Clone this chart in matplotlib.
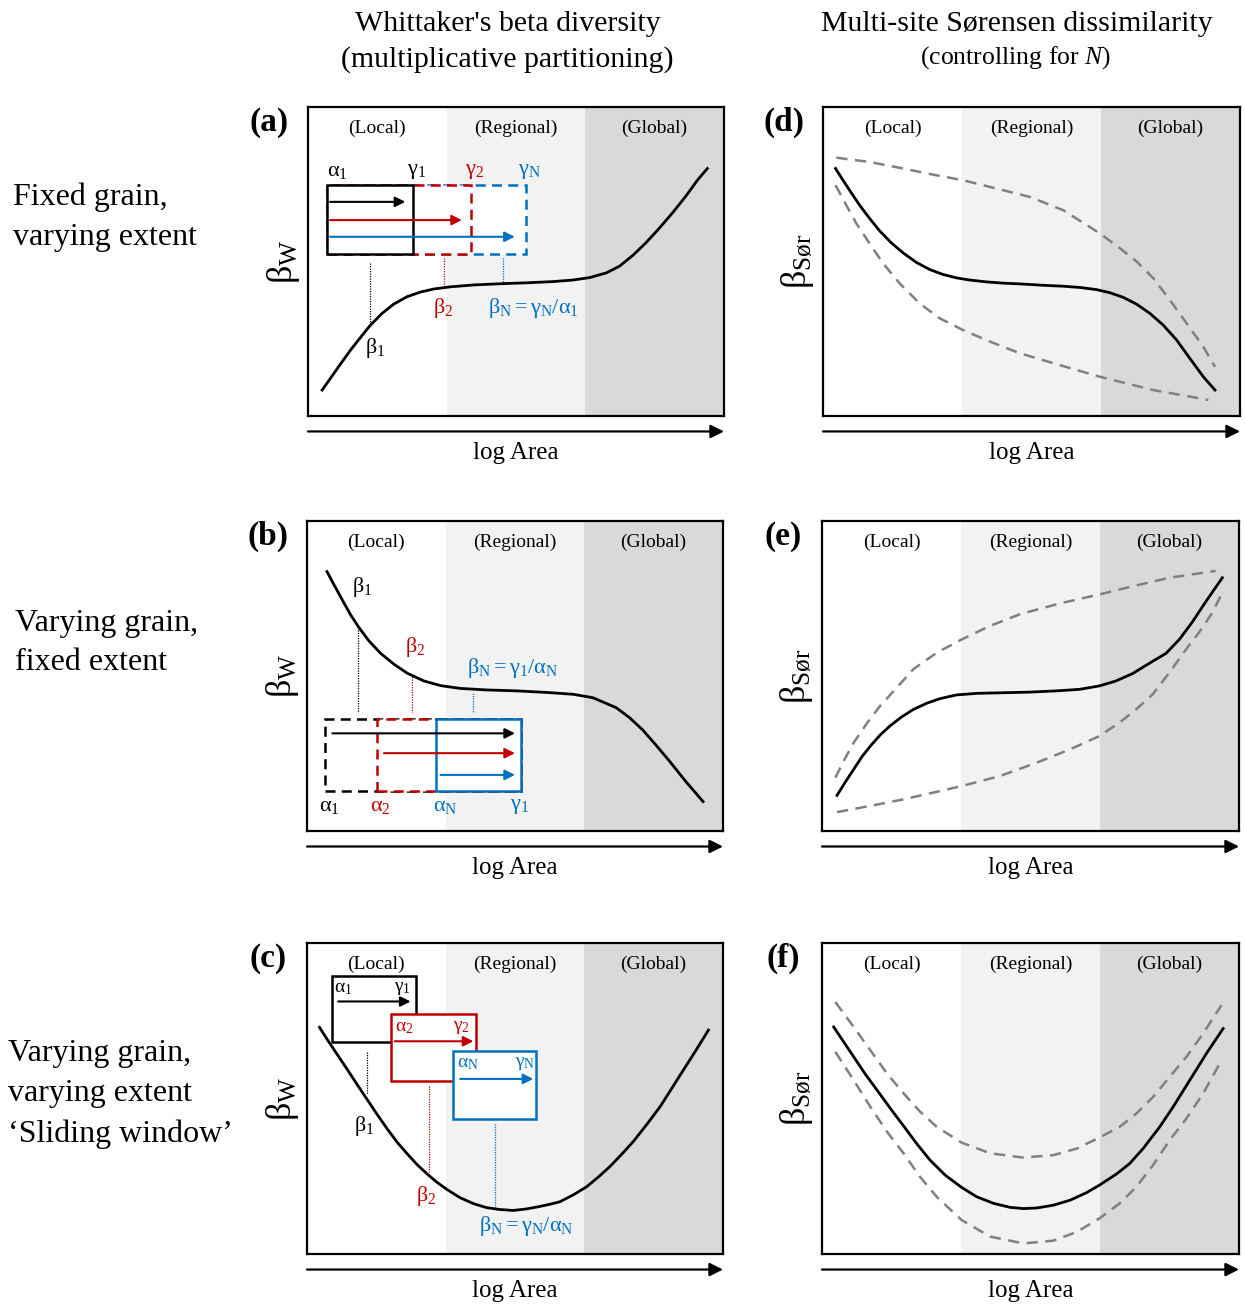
import matplotlib
matplotlib.use('Agg')
import matplotlib.pyplot as plt
from matplotlib.patches import Rectangle

plt.rcParams['font.family'] = ['Liberation Serif', 'DejaVu Serif']
plt.rcParams['mathtext.fontset'] = 'custom'
plt.rcParams['mathtext.rm'] = 'Liberation Serif'
plt.rcParams['mathtext.it'] = 'Liberation Serif:italic'
plt.rcParams['mathtext.bf'] = 'Liberation Serif:bold'

RED = '#c00000'
BLUE = '#0070c0'
GREY = '#808080'
COLS = ['black', RED, BLUE]

band_edges = [0, 1/3, 2/3, 1]
band_names = ['(Local)', '(Regional)', '(Global)']
band_colors = ['white', '#f2f2f2', '#d9d9d9']

# --- curves (x = log Area, y = beta, both 0..1) ---
a_x = [0.034, 0.054, 0.078, 0.102, 0.126, 0.150, 0.178, 0.206, 0.238, 0.270, 0.302,
       0.342, 0.397, 0.461, 0.525, 0.589, 0.637, 0.677, 0.717, 0.749, 0.781, 0.812,
       0.844, 0.876, 0.908, 0.936, 0.960]
a_y = [0.084, 0.122, 0.168, 0.213, 0.254, 0.294, 0.332, 0.362, 0.386, 0.401, 0.411,
       0.418, 0.424, 0.428, 0.431, 0.435, 0.440, 0.448, 0.463, 0.485, 0.520, 0.560,
       0.607, 0.657, 0.711, 0.763, 0.801]

b_x = [0.048, 0.065, 0.085, 0.105, 0.125, 0.149, 0.177, 0.209, 0.241, 0.281, 0.321,
       0.368, 0.432, 0.504, 0.576, 0.640, 0.687, 0.743, 0.775, 0.807, 0.839, 0.871,
       0.911, 0.952]
b_y = [0.837, 0.794, 0.745, 0.697, 0.656, 0.613, 0.573, 0.538, 0.509, 0.484, 0.469,
       0.460, 0.455, 0.452, 0.447, 0.441, 0.430, 0.398, 0.366, 0.326, 0.277, 0.226,
       0.159, 0.095]

c_x = [0.030, 0.049, 0.073, 0.097, 0.121, 0.145, 0.169, 0.193, 0.217, 0.241, 0.265,
       0.289, 0.313, 0.337, 0.368, 0.400, 0.432, 0.464, 0.496, 0.528, 0.560, 0.584,
       0.608, 0.640, 0.672, 0.700, 0.728, 0.756, 0.784, 0.817, 0.849, 0.877, 0.905,
       0.935, 0.965]
c_y = [0.729, 0.689, 0.641, 0.593, 0.544, 0.496, 0.448, 0.402, 0.359, 0.322, 0.287,
       0.257, 0.230, 0.207, 0.181, 0.162, 0.149, 0.143, 0.140, 0.145, 0.153, 0.160,
       0.168, 0.190, 0.216, 0.247, 0.281, 0.320, 0.361, 0.417, 0.474, 0.533, 0.592,
       0.655, 0.720]

d_x = [0.030, 0.048, 0.068, 0.088, 0.112, 0.136, 0.164, 0.192, 0.224, 0.256, 0.288,
       0.320, 0.352, 0.392, 0.432, 0.480, 0.528, 0.576, 0.616, 0.656, 0.688, 0.720,
       0.752, 0.784, 0.816, 0.848, 0.880, 0.912, 0.940]
d_y = [0.801, 0.763, 0.722, 0.682, 0.639, 0.599, 0.560, 0.528, 0.497, 0.474, 0.458,
       0.447, 0.440, 0.434, 0.430, 0.427, 0.423, 0.420, 0.416, 0.409, 0.399, 0.384,
       0.362, 0.332, 0.294, 0.246, 0.186, 0.127, 0.084]
d_up_x = [0.032, 0.112, 0.192, 0.272, 0.336, 0.416, 0.496, 0.576, 0.664, 0.712, 0.752,
          0.792, 0.832, 0.872, 0.912, 0.940]
d_up_y = [0.836, 0.822, 0.801, 0.779, 0.763, 0.736, 0.709, 0.666, 0.591, 0.543, 0.500,
          0.446, 0.375, 0.300, 0.224, 0.159]
d_lo_x = [0.030, 0.056, 0.080, 0.112, 0.144, 0.184, 0.232, 0.280, 0.336, 0.400, 0.472,
          0.552, 0.664, 0.792, 0.924]
d_lo_y = [0.747, 0.682, 0.623, 0.558, 0.494, 0.429, 0.364, 0.316, 0.278, 0.241, 0.203,
          0.171, 0.127, 0.084, 0.052]

e_x = [0.036, 0.056, 0.076, 0.096, 0.116, 0.139, 0.163, 0.191, 0.219, 0.251, 0.283,
       0.323, 0.371, 0.434, 0.498, 0.562, 0.618, 0.665, 0.705, 0.745, 0.785, 0.825,
       0.857, 0.888, 0.920, 0.960]
e_y = [0.115, 0.158, 0.199, 0.240, 0.274, 0.309, 0.339, 0.368, 0.392, 0.412, 0.427,
       0.439, 0.444, 0.446, 0.448, 0.452, 0.457, 0.468, 0.484, 0.508, 0.541, 0.573,
       0.618, 0.674, 0.739, 0.817]
e_up_x = [0.032, 0.052, 0.076, 0.108, 0.139, 0.179, 0.219, 0.275, 0.335, 0.402, 0.474,
          0.570, 0.665, 0.753, 0.833, 0.944]
e_up_y = [0.172, 0.226, 0.285, 0.348, 0.403, 0.462, 0.522, 0.575, 0.618, 0.661, 0.699,
          0.734, 0.763, 0.792, 0.817, 0.839]
e_lo_x = [0.036, 0.116, 0.195, 0.267, 0.335, 0.426, 0.514, 0.594, 0.665, 0.713, 0.753,
          0.793, 0.833, 0.873, 0.904, 0.936, 0.960]
e_lo_y = [0.061, 0.081, 0.102, 0.124, 0.145, 0.177, 0.220, 0.263, 0.306, 0.349, 0.392,
          0.441, 0.511, 0.586, 0.640, 0.704, 0.769]

f_x = [0.028, 0.052, 0.076, 0.104, 0.132, 0.164, 0.196, 0.227, 0.259, 0.295, 0.335,
       0.371, 0.411, 0.451, 0.483, 0.515, 0.555, 0.595, 0.634, 0.666, 0.706, 0.738,
       0.770, 0.810, 0.842, 0.882, 0.922, 0.962]
f_y = [0.730, 0.682, 0.634, 0.578, 0.527, 0.468, 0.411, 0.355, 0.302, 0.254, 0.214,
       0.184, 0.163, 0.150, 0.146, 0.148, 0.157, 0.173, 0.197, 0.222, 0.257, 0.291,
       0.339, 0.409, 0.473, 0.559, 0.645, 0.725]
f_up_x = [0.032, 0.076, 0.116, 0.156, 0.196, 0.235, 0.275, 0.335, 0.403, 0.483, 0.555,
          0.611, 0.666, 0.714, 0.754, 0.794, 0.834, 0.874, 0.914, 0.958]
f_up_y = [0.810, 0.730, 0.655, 0.580, 0.516, 0.458, 0.409, 0.358, 0.324, 0.310, 0.318,
          0.339, 0.375, 0.409, 0.452, 0.505, 0.570, 0.634, 0.709, 0.800]
f_lo_x = [0.032, 0.076, 0.116, 0.156, 0.196, 0.235, 0.275, 0.335, 0.403, 0.483, 0.555,
          0.611, 0.666, 0.714, 0.754, 0.794, 0.834, 0.874, 0.914, 0.958]
f_lo_y = [0.650, 0.559, 0.473, 0.393, 0.323, 0.248, 0.184, 0.109, 0.056, 0.034, 0.043,
          0.071, 0.115, 0.163, 0.216, 0.286, 0.366, 0.436, 0.516, 0.623]

# --- inset schematics (black, red, blue) ---
a_box_x1 = [0.252, 0.392, 0.525]
a_box_x0 = 0.046
a_box_y = (0.524, 0.747)
a_arrow_y = [0.693, 0.634, 0.580]
a_arrow_x1 = [0.234, 0.370, 0.497]
a_drop_x = [0.150, 0.326, 0.469]
a_drop_top = [0.496, 0.510, 0.510]
a_drop_bot = [0.294, 0.413, 0.429]
a_top_labels = [r'$\mathrm{\alpha_1}$', r'$\mathrm{\gamma_1}$', r'$\mathrm{\gamma_2}$', r'$\mathrm{\gamma_N}$']
a_top_label_x = [0.070, 0.262, 0.401, 0.533]
a_beta_labels = [r'$\mathrm{\beta_1}$', r'$\mathrm{\beta_2}$', r'$\mathrm{\beta_N = \gamma_N/\alpha_1}$']
a_beta_xy = [(0.162, 0.219), (0.326, 0.348), (0.543, 0.348)]

b_box_x0 = [0.043, 0.169, 0.309]
b_box_x1 = 0.514
b_box_y = (0.129, 0.361)
b_arrow_y = [0.315, 0.251, 0.181]
b_arrow_x0 = [0.061, 0.185, 0.321]
b_arrow_x1 = 0.500
b_drop_x = [0.123, 0.253, 0.400]
b_drop_top = [0.665, 0.505, 0.444]
b_drop_bot = [0.385, 0.385, 0.380]
b_bot_labels = [r'$\mathrm{\alpha_1}$', r'$\mathrm{\alpha_2}$', r'$\mathrm{\alpha_N}$', r'$\mathrm{\gamma_1}$']
b_bot_label_x = [0.053, 0.177, 0.333, 0.512]
b_beta_labels = [r'$\mathrm{\beta_1}$', r'$\mathrm{\beta_2}$', r'$\mathrm{\beta_N = \gamma_1/\alpha_N}$']
b_beta_xy = [(0.132, 0.788), (0.261, 0.595), (0.494, 0.525)]

c_box_x = [(0.061, 0.261), (0.201, 0.407), (0.352, 0.550)]
c_box_y = [(0.681, 0.893), (0.555, 0.772), (0.434, 0.654)]
c_arrow_y = [0.812, 0.684, 0.563]
c_arrow_x = [(0.075, 0.249), (0.211, 0.400), (0.368, 0.544)]
c_alpha_labels = [r'$\mathrm{\alpha_1}$', r'$\mathrm{\alpha_2}$', r'$\mathrm{\alpha_N}$']
c_gamma_labels = [r'$\mathrm{\gamma_1}$', r'$\mathrm{\gamma_2}$', r'$\mathrm{\gamma_N}$']
c_label_x = [(0.088, 0.229), (0.233, 0.372), (0.388, 0.524)]
c_label_y = [0.854, 0.729, 0.614]
c_drop_x = [0.145, 0.293, 0.452]
c_drop_top = [0.648, 0.541, 0.418]
c_drop_bot = [0.514, 0.263, 0.150]
c_beta_labels = [r'$\mathrm{\beta_1}$', r'$\mathrm{\beta_2}$', r'$\mathrm{\beta_N = \gamma_N/\alpha_N}$']
c_beta_xy = [(0.137, 0.413), (0.287, 0.188), (0.528, 0.089)]

W, H = 1245, 1311
fig = plt.figure(figsize=(W / 100, H / 100), dpi=100)


def make_ax(x0, y0, x1, y1):
    return fig.add_axes([x0 / W, 1 - y1 / H, (x1 - x0) / W, (y1 - y0) / H])


def setup(ax, letter, ylab):
    ax.set_xlim(0, 1)
    ax.set_ylim(0, 1)
    ax.set_xticks([])
    ax.set_yticks([])
    for i in range(3):
        ax.axvspan(band_edges[i], band_edges[i + 1], color=band_colors[i], lw=0, zorder=0)
        ax.text((band_edges[i] + band_edges[i + 1]) / 2, 0.93, band_names[i],
                ha='center', va='center', fontsize=14)
    for s in ax.spines.values():
        s.set_linewidth(1.6)
        s.set_zorder(10)
    ax.annotate('', xy=(1.0, -0.05), xytext=(0.0, -0.05), xycoords='axes fraction',
                arrowprops=dict(arrowstyle='-|>', color='black', lw=1.6,
                                mutation_scale=20, shrinkA=0, shrinkB=0))
    ax.text(0.5, -0.12, 'log Area', transform=ax.transAxes, ha='center', va='center',
            fontsize=18)
    ax.text(-0.06, 0.5, ylab, transform=ax.transAxes, ha='center', va='center',
            rotation=90, fontsize=26)
    ax.text(-0.094, 0.95, letter, transform=ax.transAxes, ha='center', va='center',
            fontsize=24, fontweight='bold')


def arrow(ax, x0, x1, y, c):
    ax.annotate('', xy=(x1, y), xytext=(x0, y),
                arrowprops=dict(arrowstyle='-|>', color=c, lw=1.5,
                                mutation_scale=15, shrinkA=0, shrinkB=0), zorder=6)


def drop(ax, x, y0, y1, c):
    ax.plot([x, x], [y0, y1], color=c, lw=0.9, ls=(0, (1, 1)), zorder=3)


bw = r'β$_\mathrm{W}$'
bs = r'β$_\mathrm{Sør}$'

ax_a = make_ax(308, 107, 724, 416)
ax_d = make_ax(823, 107, 1240, 416)
ax_b = make_ax(307, 521, 723, 831)
ax_e = make_ax(822, 521, 1239, 831)
ax_c = make_ax(307, 943, 723, 1254)
ax_f = make_ax(822, 943, 1239, 1254)

for ax, lt, yl in [(ax_a, '(a)', bw), (ax_b, '(b)', bw), (ax_c, '(c)', bw),
                   (ax_d, '(d)', bs), (ax_e, '(e)', bs), (ax_f, '(f)', bs)]:
    setup(ax, lt, yl)

# panel a
ax_a.plot(a_x, a_y, color='black', lw=2, zorder=4)
for i in [2, 1, 0]:
    ls = '-' if i == 0 else (0, (4, 2.5))
    ax_a.add_patch(Rectangle((a_box_x0, a_box_y[0]), a_box_x1[i] - a_box_x0,
                             a_box_y[1] - a_box_y[0], facecolor='white',
                             edgecolor=COLS[i], lw=1.8, ls=ls, zorder=5))
for i in range(3):
    arrow(ax_a, a_box_x0 + 0.007, a_arrow_x1[i], a_arrow_y[i], COLS[i])
    drop(ax_a, a_drop_x[i], a_drop_top[i], a_drop_bot[i], COLS[i])
    ax_a.text(*a_beta_xy[i], a_beta_labels[i], color=COLS[i], ha='center', va='center',
              fontsize=16)
for lab, x, c in zip(a_top_labels, a_top_label_x, ['black', 'black', RED, BLUE]):
    ax_a.text(x, 0.79, lab, color=c, ha='center', va='center', fontsize=16)

# panel b
ax_b.plot(b_x, b_y, color='black', lw=2, zorder=4)
for i in range(3):
    ls = '-' if i == 2 else (0, (4, 2.5))
    ax_b.add_patch(Rectangle((b_box_x0[i], b_box_y[0]), b_box_x1 - b_box_x0[i],
                             b_box_y[1] - b_box_y[0], facecolor='white',
                             edgecolor=COLS[i], lw=1.8, ls=ls, zorder=5))
for i in range(3):
    arrow(ax_b, b_arrow_x0[i], b_arrow_x1, b_arrow_y[i], COLS[i])
    drop(ax_b, b_drop_x[i], b_drop_top[i], b_drop_bot[i], COLS[i])
    ax_b.text(*b_beta_xy[i], b_beta_labels[i], color=COLS[i], ha='center', va='center',
              fontsize=16)
for lab, x, c in zip(b_bot_labels, b_bot_label_x, ['black', RED, BLUE, BLUE]):
    ax_b.text(x, 0.078, lab, color=c, ha='center', va='center', fontsize=16)

# panel c
ax_c.plot(c_x, c_y, color='black', lw=2, zorder=4)
for i in range(3):
    (x0, x1), (y0, y1) = c_box_x[i], c_box_y[i]
    ax_c.add_patch(Rectangle((x0, y0), x1 - x0, y1 - y0, facecolor='white',
                             edgecolor=COLS[i], lw=1.8, zorder=5 + i))
    ax_c.annotate('', xy=(c_arrow_x[i][1], c_arrow_y[i]), xytext=(c_arrow_x[i][0], c_arrow_y[i]),
                  arrowprops=dict(arrowstyle='-|>', color=COLS[i], lw=1.5,
                                  mutation_scale=15, shrinkA=0, shrinkB=0), zorder=5 + i)
    ax_c.text(c_label_x[i][0], c_label_y[i], c_alpha_labels[i], color=COLS[i],
              ha='center', va='center', fontsize=14, zorder=5 + i)
    ax_c.text(c_label_x[i][1], c_label_y[i], c_gamma_labels[i], color=COLS[i],
              ha='center', va='center', fontsize=14, zorder=5 + i)
    drop(ax_c, c_drop_x[i], c_drop_top[i], c_drop_bot[i], COLS[i])
    ax_c.text(*c_beta_xy[i], c_beta_labels[i], color=COLS[i], ha='center', va='center',
              fontsize=16)

# panels d, e, f
for ax, sx, sy, ux, uy, lx, ly in [(ax_d, d_x, d_y, d_up_x, d_up_y, d_lo_x, d_lo_y),
                                   (ax_e, e_x, e_y, e_up_x, e_up_y, e_lo_x, e_lo_y),
                                   (ax_f, f_x, f_y, f_up_x, f_up_y, f_lo_x, f_lo_y)]:
    ax.plot(ux, uy, color=GREY, lw=1.8, dashes=(4.5, 3), zorder=3)
    ax.plot(lx, ly, color=GREY, lw=1.8, dashes=(4.5, 3), zorder=3)
    ax.plot(sx, sy, color='black', lw=2, zorder=4)

# column titles
fig.text(508 / W, 1 - 24 / H, "Whittaker's beta diversity", ha='center', va='center', fontsize=21.5)
fig.text(507 / W, 1 - 60 / H, '(multiplicative partitioning)', ha='center', va='center', fontsize=21.5)
fig.text(1017 / W, 1 - 24 / H, 'Multi-site Sørensen dissimilarity', ha='center', va='center', fontsize=21.5)
fig.text(1016 / W, 1 - 58 / H, r'(controlling for $N$)', ha='center', va='center', fontsize=18.5)

# row labels
fig.text(13 / W, 1 - 217 / H, 'Fixed grain,\nvarying extent', ha='left', va='center',
         fontsize=23, linespacing=1.5)
fig.text(15 / W, 1 - 643 / H, 'Varying grain,\nfixed extent', ha='left', va='center',
         fontsize=23, linespacing=1.5)
fig.text(8 / W, 1 - 1094 / H, 'Varying grain,\nvarying extent\n‘Sliding window’',
         ha='left', va='center', fontsize=23, linespacing=1.5)

fig.savefig('out.png', dpi=100)
